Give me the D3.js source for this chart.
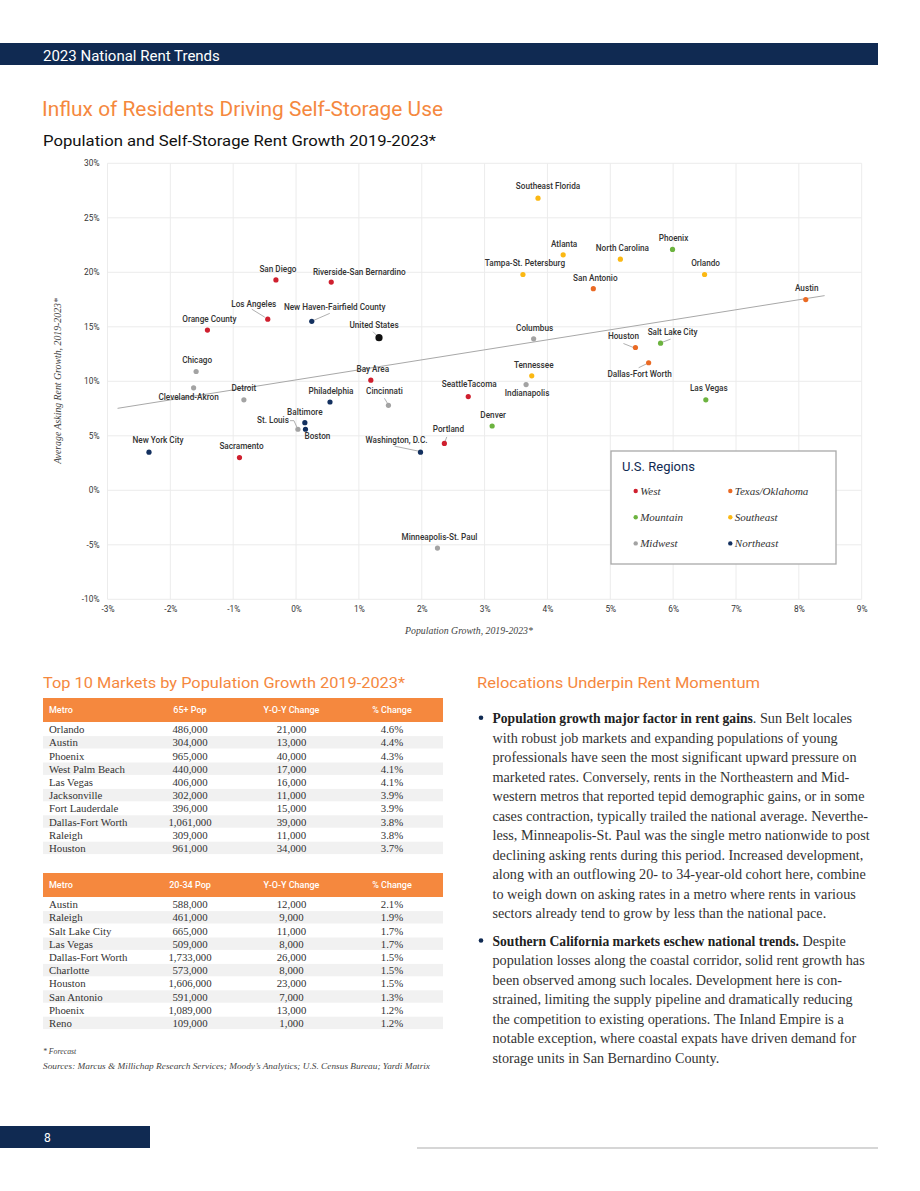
<!DOCTYPE html>
<html>
<head>
<meta charset="utf-8">
<script src="https://cdn.jsdelivr.net/npm/d3@7"></script>
<style>
  html, body { margin: 0; padding: 0; background: #fff; }
  svg { display: block; }
</style>
</head>
<body>
<svg id="page" width="920" height="1191"></svg>
<script>
// ---------------- DATA ----------------
const metros = ["San Diego","Riverside-San Bernardino","Los Angeles","New Haven-Fairfield County","Orange County","United States","Chicago","Bay Area","Cleveland-Akron","Detroit","Philadelphia","Cincinnati","Baltimore","St. Louis","Boston","New York City","Sacramento","Washington, D.C.","Portland","Minneapolis-St. Paul","Southeast Florida","Atlanta","North Carolina","Phoenix","Tampa-St. Petersburg","Orlando","San Antonio","Austin","Columbus","Houston","Salt Lake City","Dallas-Fort Worth","Tennessee","Indianapolis","SeattleTacoma","Las Vegas","Denver"];
const popGrowth = [-0.32,0.56,-0.45,0.25,-1.41,1.32,-1.59,1.19,-1.63,-0.83,0.54,1.47,0.14,0.03,0.15,-2.34,-0.90,1.98,2.36,2.25,3.85,4.25,5.16,5.99,3.61,6.50,4.73,8.11,3.78,5.40,5.80,5.61,3.75,3.66,2.74,6.52,3.12];
const rentGrowth = [19.3,19.1,15.7,15.5,14.7,14.0,10.9,10.1,9.4,8.3,8.1,7.8,6.2,5.6,5.6,3.5,3.0,3.5,4.3,-5.3,26.8,21.6,21.2,22.1,19.8,19.8,18.5,17.5,13.9,13.1,13.5,11.7,10.5,9.7,8.6,8.3,5.9];
const metroRegion = ["West","West","West","Northeast","West","US","Midwest","West","Midwest","Midwest","Northeast","Midwest","Northeast","Midwest","Northeast","Northeast","West","Northeast","West","Midwest","Southeast","Southeast","Southeast","Mountain","Southeast","Southeast","Texas/Oklahoma","Texas/Oklahoma","Midwest","Texas/Oklahoma","Mountain","Texas/Oklahoma","Southeast","Midwest","West","Mountain","Mountain"];
const regionNames = ["West","Texas/Oklahoma","Mountain","Southeast","Midwest","Northeast"];
const trendX = [-2.84, 8.41];
const trendY = [7.52, 17.86];
const xTicks = [-3,-2,-1,0,1,2,3,4,5,6,7,8,9];
const yTicks = [-10,-5,0,5,10,15,20,25,30];

const t1Metro = ["Orlando","Austin","Phoenix","West Palm Beach","Las Vegas","Jacksonville","Fort Lauderdale","Dallas-Fort Worth","Raleigh","Houston"];
const t1Pop = ["486,000","304,000","965,000","440,000","406,000","302,000","396,000","1,061,000","309,000","961,000"];
const t1Yoy = ["21,000","13,000","40,000","17,000","16,000","11,000","15,000","39,000","11,000","34,000"];
const t1Pct = ["4.6%","4.4%","4.3%","4.1%","4.1%","3.9%","3.9%","3.8%","3.8%","3.7%"];
const t1Head = ["Metro","65+ Pop","Y-O-Y Change","% Change"];

const t2Metro = ["Austin","Raleigh","Salt Lake City","Las Vegas","Dallas-Fort Worth","Charlotte","Houston","San Antonio","Phoenix","Reno"];
const t2Pop = ["588,000","461,000","665,000","509,000","1,733,000","573,000","1,606,000","591,000","1,089,000","109,000"];
const t2Yoy = ["12,000","9,000","11,000","8,000","26,000","8,000","23,000","7,000","13,000","1,000"];
const t2Pct = ["2.1%","1.9%","1.7%","1.7%","1.5%","1.5%","1.5%","1.3%","1.2%","1.2%"];
const t2Head = ["Metro","20-34 Pop","Y-O-Y Change","% Change"];

// ---------------- LAYOUT (label offsets, px relative to the dot) ----------------
const labelOffset = {
  "San Diego":[2,-11],"Riverside-San Bernardino":[28,-10],"Los Angeles":[-14,-15],"New Haven-Fairfield County":[23,-14],
  "Orange County":[2,-11],"United States":[-5,-13],"Chicago":[1,-11],"Bay Area":[2,-11],"Cleveland-Akron":[-5,9],
  "Detroit":[0,-12],"Philadelphia":[1,-11],"Cincinnati":[-4,-14],"Baltimore":[0,-11],"St. Louis":[-25,-9],
  "Boston":[12,7],"New York City":[9,-12],"Sacramento":[2,-11],"Washington, D.C.":[-24,-12],"Portland":[4,-14],
  "Minneapolis-St. Paul":[2,-11],"Southeast Florida":[10,-12],"Atlanta":[1,-11],"North Carolina":[2,-11],
  "Phoenix":[1,-11],"Tampa-St. Petersburg":[2,-11],"Orlando":[1,-11],"San Antonio":[2,-11],"Austin":[1,-11],
  "Columbus":[1,-11],"Houston":[-12,-11],"Salt Lake City":[12,-11],"Dallas-Fort Worth":[-9,11],"Tennessee":[2,-11],
  "Indianapolis":[1,9],"SeattleTacoma":[1,-12],"Las Vegas":[3,-12],"Denver":[1,-11]
};
const leaders = {
  "Los Angeles":[[-16,-10],[-3,-2]],
  "New Haven-Fairfield County":[[2,-1],[18,-8]],
  "United States":[[-6,-6],[-2,-2]],
  "Cincinnati":[[-4,-7],[-1,-2]],
  "St. Louis":[[-8,-8.6],[-4,-8.6],[-1,-2]],
  "Washington, D.C.":[[-26,-6],[-2,-1]],
  "Portland":[[2.4,-6.5],[0.7,-2]],
  "Houston":[[-12,-4],[-2,0]],
  "Salt Lake City":[[10,-4],[2,-1]],
  "Dallas-Fort Worth":[[-10,5],[-2,1]]
};

const regionColor = d3.scaleOrdinal()
  .domain(["West","Texas/Oklahoma","Mountain","Southeast","Midwest","Northeast","US"])
  .range(["#cf1f2e","#ea6a24","#6cb33f","#fbb813","#a3a3a3","#13305f","#111111"]);

const NAVY = "#102a52", ORANGE = "#f5883e";
const sans = "Roboto, 'Liberation Sans', sans-serif";
const serif = "'Liberation Serif', 'DejaVu Serif', serif";

const svg = d3.select("#page");

// ---------------- HEADER ----------------
svg.append("rect").attr("x",0).attr("y",43).attr("width",878).attr("height",22).attr("fill",NAVY);
svg.append("text").attr("x",43).attr("y",60.5).attr("fill","#fff").attr("font-family",sans)
  .attr("font-size",15).attr("font-weight",400).text("2023 National Rent Trends");

svg.append("text").attr("x",42).attr("y",116).attr("fill",ORANGE).attr("font-family",sans)
  .attr("font-size",20.5).attr("font-weight",400).attr("textLength",401).attr("lengthAdjust","spacingAndGlyphs")
  .text("Influx of Residents Driving Self-Storage Use");
svg.append("text").attr("x",43).attr("y",146).attr("fill","#111").attr("font-family",sans)
  .attr("font-size",15).attr("font-weight",400).attr("textLength",393).attr("lengthAdjust","spacingAndGlyphs")
  .text("Population and Self-Storage Rent Growth 2019-2023*");

// ---------------- SCATTER ----------------
const x = d3.scaleLinear().domain([-3,9]).range([107.5,861.7]);
const y = d3.scaleLinear().domain([-10,30]).range([599.3,163.3]);

const g = svg.append("g");
// grid
g.append("g").selectAll("line").data(xTicks).join("line")
  .attr("x1",d=>x(d)).attr("x2",d=>x(d)).attr("y1",y(30)).attr("y2",y(-10))
  .attr("stroke","#ececec").attr("stroke-width",1);
g.append("g").selectAll("line").data(yTicks).join("line")
  .attr("x1",x(-3)).attr("x2",x(9)).attr("y1",d=>y(d)).attr("y2",d=>y(d))
  .attr("stroke","#ececec").attr("stroke-width",1);

// axes (tick labels only)
const yAxis = d3.axisLeft(y).tickValues(yTicks).tickFormat(d=>d+"%").tickSize(0).tickPadding(8);
const yg = g.append("g").attr("transform",`translate(${x(-3)},0)`).call(yAxis);
const xAxis = d3.axisBottom(x).tickValues(xTicks).tickFormat(d=>d+"%").tickSize(0).tickPadding(7);
const xg = g.append("g").attr("transform",`translate(0,${y(-10)})`).call(xAxis);
[yg,xg].forEach(a=>{
  a.select(".domain").remove();
  a.selectAll("text").attr("font-family",sans).attr("font-size",8.3).attr("fill","#333");
});

// axis titles
svg.append("text").attr("transform",`translate(61,381) rotate(-90)`).attr("text-anchor","middle")
  .attr("font-family",serif).attr("font-style","italic").attr("font-size",9.8).attr("fill","#444")
  .text("Average Asking Rent Growth, 2019-2023*");
svg.append("text").attr("x",469).attr("y",634).attr("text-anchor","middle")
  .attr("font-family",serif).attr("font-style","italic").attr("font-size",9.8).attr("fill","#444")
  .text("Population Growth, 2019-2023*");

// trend line
g.append("line").attr("x1",x(trendX[0])).attr("y1",y(trendY[0])).attr("x2",x(trendX[1])).attr("y2",y(trendY[1]))
  .attr("stroke","#a8a8a8").attr("stroke-width",1);

const pts = metros.map((m,i)=>({name:m, px:popGrowth[i], ry:rentGrowth[i], region:metroRegion[i]}));

// leaders
const lineGen = d3.line();
g.append("g").selectAll("path").data(pts.filter(d=>leaders[d.name])).join("path")
  .attr("d",d=>lineGen(leaders[d.name].map(p=>[x(d.px)+p[0], y(d.ry)+p[1]])))
  .attr("fill","none").attr("stroke","#9a9a9a").attr("stroke-width",0.8);

// dots
g.append("g").selectAll("circle").data(pts).join("circle")
  .attr("cx",d=>x(d.px)).attr("cy",d=>y(d.ry))
  .attr("r",d=>d.region==="US"?3.6:2.6)
  .attr("fill",d=>regionColor(d.region));

// labels
g.append("g").selectAll("text").data(pts).join("text")
  .attr("x",d=>x(d.px)+labelOffset[d.name][0]).attr("y",d=>y(d.ry)+labelOffset[d.name][1])
  .attr("dy","0.35em").attr("text-anchor","middle")
  .attr("font-family",sans).attr("font-size",8.2).attr("font-weight",500).attr("fill","#333")
  .text(d=>d.name);

// legend
const lg = svg.append("g").attr("transform","translate(611,451)");
lg.append("rect").attr("width",225).attr("height",113).attr("fill","#fff").attr("stroke","#a9a9a9").attr("stroke-width",1.3);
lg.append("text").attr("x",11).attr("y",20).attr("font-family",sans).attr("font-size",13)
  .attr("fill",NAVY).text("U.S. Regions");
const items = lg.selectAll("g.item").data(regionNames).join("g").attr("class","item")
  .attr("transform",(d,i)=>`translate(${i%2===0?24.7:119.3},${40 + Math.floor(i/2)*26.2})`);
items.append("circle").attr("r",2.2).attr("fill",d=>regionColor(d));
items.append("text").attr("x",4.5).attr("dy","0.35em").attr("font-family",serif).attr("font-style","italic")
  .attr("font-size",11).attr("fill","#333").text(d=>d);

// ---------------- TABLES ----------------
svg.append("text").attr("x",43).attr("y",688).attr("fill",ORANGE).attr("font-family",sans)
  .attr("font-size",15.5).attr("textLength",362).attr("lengthAdjust","spacingAndGlyphs")
  .text("Top 10 Markets by Population Growth 2019-2023*");

const colCenters = [null,190,291.5,392];
function drawTable(top, head, c0, c1, c2, c3){
  const tg = svg.append("g");
  tg.append("rect").attr("x",43).attr("y",top).attr("width",400).attr("height",24).attr("fill",ORANGE);
  tg.selectAll("text.h").data(head).join("text").attr("class","h")
    .attr("x",(d,i)=>i===0?49:colCenters[i]).attr("y",top+12).attr("dy","0.35em")
    .attr("text-anchor",(d,i)=>i===0?"start":"middle")
    .attr("font-family",sans).attr("font-size",9).attr("font-weight",500).attr("fill","#fff").text(d=>d);
  const rowY = d3.scaleLinear().domain([0,1]).range([top+31.5, top+31.5+13.2]);
  const rows = tg.selectAll("g.r").data(c0).join("g").attr("class","r");
  rows.append("rect").attr("x",43).attr("width",400).attr("y",(d,i)=>rowY(i)-6.6).attr("height",12.4)
    .attr("fill",(d,i)=>i%2===1?"#f1f1f1":"#fff");
  const cols = [c0,c1,c2,c3];
  cols.forEach((col,ci)=>{
    tg.selectAll(null).data(col).join("text")
      .attr("x",ci===0?49:colCenters[ci]).attr("y",(d,i)=>rowY(i)).attr("dy","0.35em")
      .attr("text-anchor",ci===0?"start":"middle")
      .attr("font-family",serif).attr("font-size",10.8).attr("fill","#333").text(d=>d);
  });
}
drawTable(698, t1Head, t1Metro, t1Pop, t1Yoy, t1Pct);
drawTable(873, t2Head, t2Metro, t2Pop, t2Yoy, t2Pct);

svg.append("text").attr("x",43).attr("y",1054).attr("font-family",serif).attr("font-style","italic")
  .attr("font-size",7.8).attr("fill","#444").text("* Forecast");
svg.append("text").attr("x",43).attr("y",1069).attr("font-family",serif).attr("font-style","italic")
  .attr("font-size",7.8).attr("fill","#444").attr("textLength",387).attr("lengthAdjust","spacingAndGlyphs")
  .text("Sources: Marcus & Millichap Research Services; Moody’s Analytics; U.S. Census Bureau; Yardi Matrix");

// ---------------- RIGHT COLUMN TEXT ----------------
svg.append("text").attr("x",477).attr("y",688).attr("fill",ORANGE).attr("font-family",sans)
  .attr("font-size",15.5).attr("textLength",283).attr("lengthAdjust","spacingAndGlyphs")
  .text("Relocations Underpin Rent Momentum");

const bullet1 = [
  ["Population growth major factor in rent gains", ". Sun Belt locales"],
  ["", "with robust job markets and expanding populations of young"],
  ["", "professionals have seen the most significant upward pressure on"],
  ["", "marketed rates. Conversely, rents in the Northeastern and Mid-"],
  ["", "western metros that reported tepid demographic gains, or in some"],
  ["", "cases contraction, typically trailed the national average. Neverthe-"],
  ["", "less, Minneapolis-St. Paul was the single metro nationwide to post"],
  ["", "declining asking rents during this period. Increased development,"],
  ["", "along with an outflowing 20- to 34-year-old cohort here, combine"],
  ["", "to weigh down on asking rates in a metro where rents in various"],
  ["", "sectors already tend to grow by less than the national pace."]
];
const bullet2 = [
  ["Southern California markets eschew national trends.", " Despite"],
  ["", "population losses along the coastal corridor, solid rent growth has"],
  ["", "been observed among such locales. Development here is con-"],
  ["", "strained, limiting the supply pipeline and dramatically reducing"],
  ["", "the competition to existing operations. The Inland Empire is a"],
  ["", "notable exception, where coastal expats have driven demand for"],
  ["", "storage units in San Bernardino County."]
];
function drawBullet(lines, y0){
  svg.append("circle").attr("cx",481).attr("cy",y0-0.5).attr("r",2.3).attr("fill",NAVY);
  lines.forEach((ln,i)=>{
    const t = svg.append("text").attr("x",492.5).attr("y",y0+i*19.5).attr("dy","0.35em")
      .attr("font-family",serif).attr("font-size",14.2).attr("fill","#333");
    if (ln[0]) t.append("tspan").attr("font-weight",700).attr("font-size",13.6).attr("fill","#222").text(ln[0]);
    t.append("tspan").text(ln[1]);
  });
}
drawBullet(bullet1, 718.3);
drawBullet(bullet2, 941);

// ---------------- FOOTER ----------------
svg.append("rect").attr("x",0).attr("y",1126).attr("width",150).attr("height",22).attr("fill",NAVY);
svg.append("text").attr("x",44).attr("y",1142).attr("fill","#fff").attr("font-family",sans)
  .attr("font-size",12).text("8");
svg.append("line").attr("x1",417).attr("x2",878).attr("y1",1148).attr("y2",1148)
  .attr("stroke","#c8c8c8").attr("stroke-width",1.5);
</script>
</body>
</html>
